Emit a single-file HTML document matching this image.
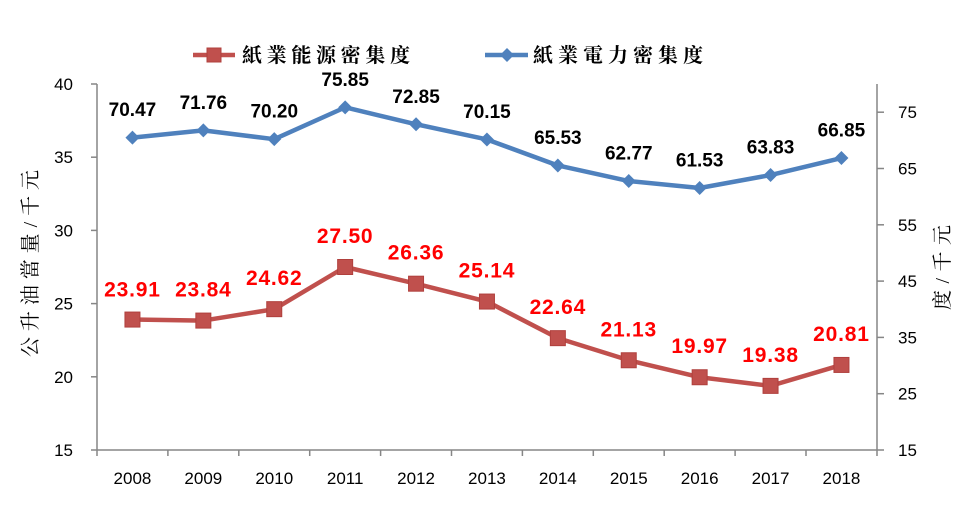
<!DOCTYPE html>
<html><head><meta charset="utf-8"><style>
html,body{margin:0;padding:0;background:#fff;}
svg{display:block;}
.t{font-family:"Liberation Sans",sans-serif;font-size:17px;fill:#000;}
.bl{font-family:"Liberation Sans",sans-serif;font-size:19px;font-weight:bold;fill:#000;text-anchor:middle;}
.rl{font-family:"Liberation Sans",sans-serif;font-size:21px;font-weight:bold;fill:#ff0000;text-anchor:middle;letter-spacing:0.8px;}
.cj{font-family:"Liberation Serif","Noto Serif CJK SC",serif;fill:#000;}
</style></head><body>
<svg width="962" height="511" viewBox="0 0 962 511" xmlns="http://www.w3.org/2000/svg">
<rect width="962" height="511" fill="#fff"/>
<!-- axes -->
<g stroke="#868686" stroke-width="1.5" fill="none">
<line x1="97" y1="84" x2="97" y2="450"/>
<line x1="877" y1="84" x2="877" y2="450"/>
<line x1="97" y1="450" x2="877" y2="450"/>
<line x1="91" y1="84" x2="97" y2="84"/>
<line x1="91" y1="157.2" x2="97" y2="157.2"/>
<line x1="91" y1="230.4" x2="97" y2="230.4"/>
<line x1="91" y1="303.6" x2="97" y2="303.6"/>
<line x1="91" y1="376.8" x2="97" y2="376.8"/>
<line x1="91" y1="450" x2="97" y2="450"/>
<line x1="877" y1="112.2" x2="884" y2="112.2"/>
<line x1="877" y1="168.5" x2="884" y2="168.5"/>
<line x1="877" y1="224.8" x2="884" y2="224.8"/>
<line x1="877" y1="281.1" x2="884" y2="281.1"/>
<line x1="877" y1="337.4" x2="884" y2="337.4"/>
<line x1="877" y1="393.7" x2="884" y2="393.7"/>
<line x1="877" y1="450" x2="884" y2="450"/>
<line x1="97" y1="450" x2="97" y2="456"/>
<line x1="167.9" y1="450" x2="167.9" y2="456"/>
<line x1="238.8" y1="450" x2="238.8" y2="456"/>
<line x1="309.7" y1="450" x2="309.7" y2="456"/>
<line x1="380.6" y1="450" x2="380.6" y2="456"/>
<line x1="451.5" y1="450" x2="451.5" y2="456"/>
<line x1="522.4" y1="450" x2="522.4" y2="456"/>
<line x1="593.3" y1="450" x2="593.3" y2="456"/>
<line x1="664.2" y1="450" x2="664.2" y2="456"/>
<line x1="735.1" y1="450" x2="735.1" y2="456"/>
<line x1="806" y1="450" x2="806" y2="456"/>
<line x1="877" y1="450" x2="877" y2="456"/>
</g>
<!-- left tick labels -->
<g class="t" text-anchor="end">
<text x="73" y="90">40</text>
<text x="73" y="163.2">35</text>
<text x="73" y="236.4">30</text>
<text x="73" y="309.6">25</text>
<text x="73" y="382.8">20</text>
<text x="73" y="456">15</text>
</g>
<!-- right tick labels -->
<g class="t">
<text x="898" y="118.2">75</text>
<text x="898" y="174.5">65</text>
<text x="898" y="230.8">55</text>
<text x="898" y="287.1">45</text>
<text x="898" y="343.4">35</text>
<text x="898" y="399.7">25</text>
<text x="898" y="456">15</text>
</g>
<!-- x labels -->
<g class="t" text-anchor="middle">
<text x="132.45" y="484">2008</text>
<text x="203.35" y="484">2009</text>
<text x="274.25" y="484">2010</text>
<text x="345.15" y="484">2011</text>
<text x="416.05" y="484">2012</text>
<text x="486.95" y="484">2013</text>
<text x="557.85" y="484">2014</text>
<text x="628.75" y="484">2015</text>
<text x="699.65" y="484">2016</text>
<text x="770.55" y="484">2017</text>
<text x="841.45" y="484">2018</text>
</g>
<!-- axis titles -->
<text class="cj" font-size="20" transform="translate(37,357) rotate(-90)" textLength="187" lengthAdjust="spacing">公升油當量/千元</text>
<text class="cj" font-size="20" transform="translate(949,310) rotate(-90)" textLength="85" lengthAdjust="spacing">度/千元</text>
<!-- blue series -->
<polyline fill="none" stroke="#4F81BD" stroke-width="4.5" stroke-linejoin="round" points="132.45,137.66 203.35,130.4 274.25,139.18 345.15,107.37 416.05,124.26 486.95,139.46 557.85,165.48 628.75,181.02 699.65,188 770.55,175.05 841.45,158.04"/>
<g fill="#4F81BD">
<path d="M132.45,130.66 l7,7 l-7,7 l-7,-7z"/>
<path d="M203.35,123.4 l7,7 l-7,7 l-7,-7z"/>
<path d="M274.25,132.18 l7,7 l-7,7 l-7,-7z"/>
<path d="M345.15,100.37 l7,7 l-7,7 l-7,-7z"/>
<path d="M416.05,117.26 l7,7 l-7,7 l-7,-7z"/>
<path d="M486.95,132.46 l7,7 l-7,7 l-7,-7z"/>
<path d="M557.85,158.48 l7,7 l-7,7 l-7,-7z"/>
<path d="M628.75,174.02 l7,7 l-7,7 l-7,-7z"/>
<path d="M699.65,181 l7,7 l-7,7 l-7,-7z"/>
<path d="M770.55,168.05 l7,7 l-7,7 l-7,-7z"/>
<path d="M841.45,151.04 l7,7 l-7,7 l-7,-7z"/>
</g>
<!-- red series -->
<polyline fill="none" stroke="#C0504D" stroke-width="4.5" stroke-linejoin="round" points="132.45,319.56 203.35,320.58 274.25,309.16 345.15,267 416.05,283.69 486.95,301.55 557.85,338.15 628.75,360.26 699.65,377.24 770.55,385.88 841.45,364.94"/>
<g fill="#C0504D" stroke="#B0403D" stroke-width="1">
<rect x="124.95" y="312.06" width="15" height="15"/>
<rect x="195.85" y="313.08" width="15" height="15"/>
<rect x="266.75" y="301.66" width="15" height="15"/>
<rect x="337.65" y="259.5" width="15" height="15"/>
<rect x="408.55" y="276.19" width="15" height="15"/>
<rect x="479.45" y="294.05" width="15" height="15"/>
<rect x="550.35" y="330.65" width="15" height="15"/>
<rect x="621.25" y="352.76" width="15" height="15"/>
<rect x="692.15" y="369.74" width="15" height="15"/>
<rect x="763.05" y="378.38" width="15" height="15"/>
<rect x="833.95" y="357.44" width="15" height="15"/>
</g>
<!-- blue labels -->
<g class="bl">
<text x="132.45" y="116.2">70.47</text>
<text x="203.35" y="108.9">71.76</text>
<text x="274.25" y="117.7">70.20</text>
<text x="345.15" y="85.9">75.85</text>
<text x="416.05" y="102.8">72.85</text>
<text x="486.95" y="118">70.15</text>
<text x="557.85" y="144">65.53</text>
<text x="628.75" y="159.5">62.77</text>
<text x="699.65" y="166.5">61.53</text>
<text x="770.55" y="153.6">63.83</text>
<text x="841.45" y="136.5">66.85</text>
</g>
<!-- red labels -->
<g class="rl">
<text x="132.45" y="296.6">23.91</text>
<text x="203.35" y="296.6">23.84</text>
<text x="274.25" y="285.2">24.62</text>
<text x="345.15" y="243">27.50</text>
<text x="416.05" y="259.7">26.36</text>
<text x="486.95" y="277.5">25.14</text>
<text x="557.85" y="314.2">22.64</text>
<text x="628.75" y="336.3">21.13</text>
<text x="699.65" y="353.2">19.97</text>
<text x="770.55" y="361.9">19.38</text>
<text x="841.45" y="340.9">20.81</text>
</g>
<!-- legend -->
<line x1="193" y1="55" x2="235" y2="55" stroke="#C0504D" stroke-width="4.5"/>
<rect x="207" y="48" width="14" height="14" fill="#C0504D" stroke="#B0403D" stroke-width="1"/>
<text class="cj" font-size="20" font-weight="bold" x="242" y="62" textLength="168" lengthAdjust="spacing">紙業能源密集度</text>
<line x1="485" y1="55" x2="528" y2="55" stroke="#4F81BD" stroke-width="4.5"/>
<path d="M507,48 l7,7 l-7,7 l-7,-7z" fill="#4F81BD"/>
<text class="cj" font-size="20" font-weight="bold" x="533" y="62" textLength="170" lengthAdjust="spacing">紙業電力密集度</text>
</svg>
</body></html>
